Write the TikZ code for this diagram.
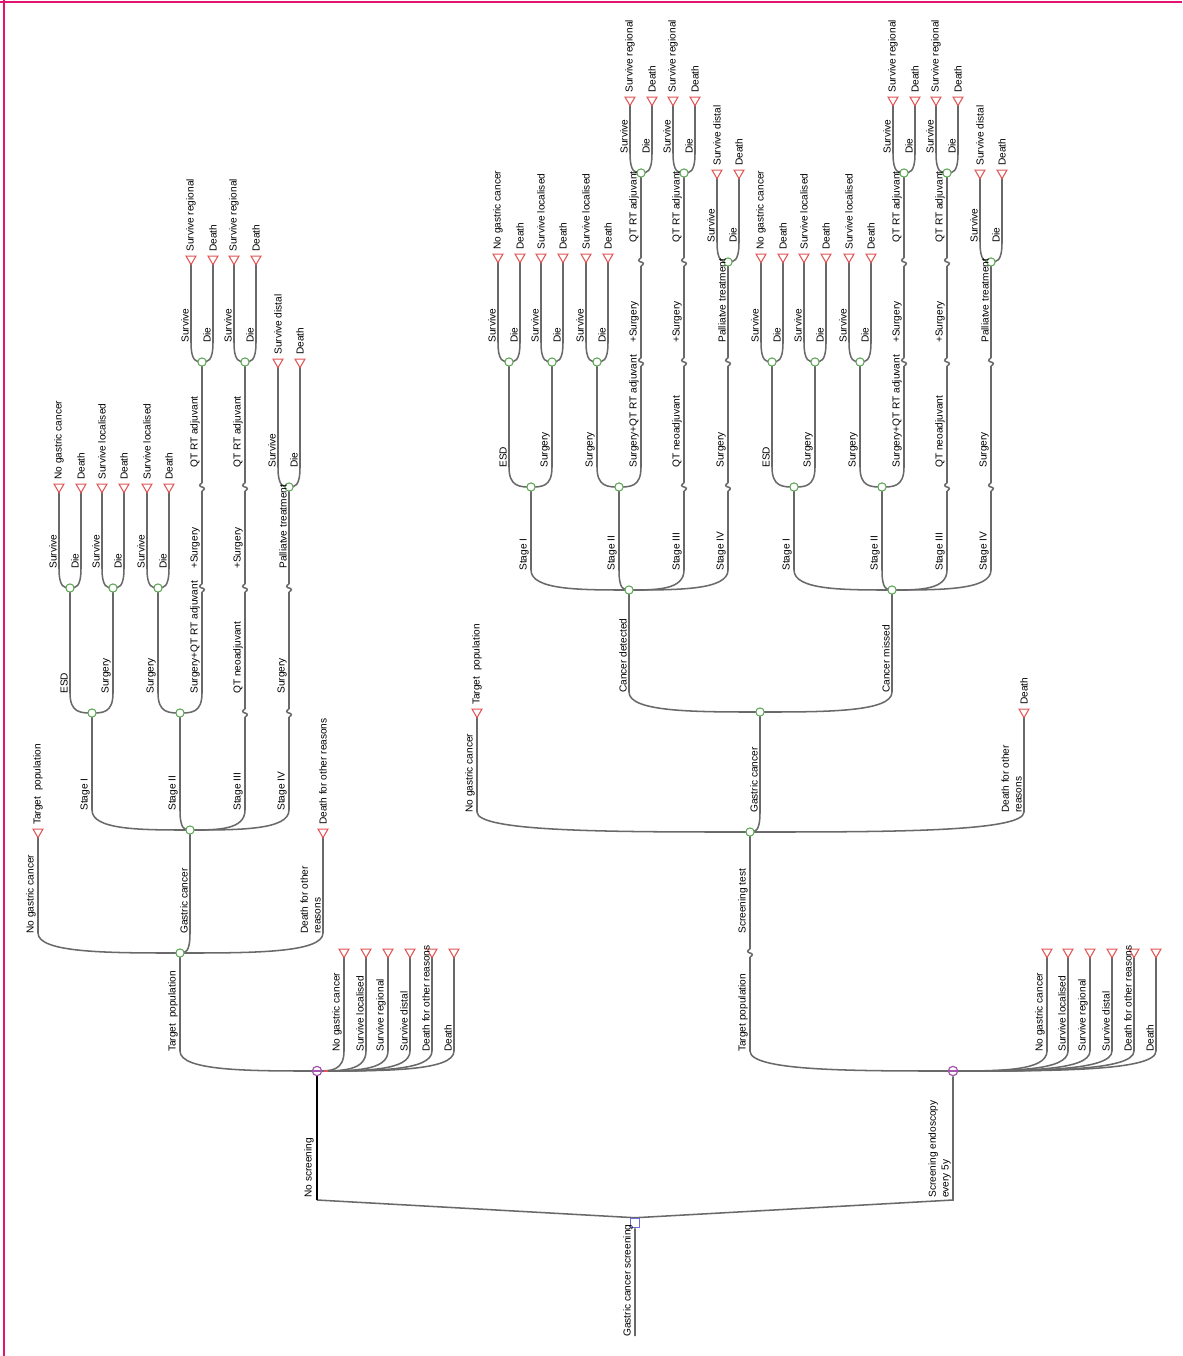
\documentclass[tikz,border=0pt]{standalone}
\usepackage{fontspec}
\setmainfont{Liberation Sans}
\usetikzlibrary{calc,shapes.geometric}
\pgfdeclarelayer{bg}
\pgfsetlayers{bg,main}
\definecolor{lnc}{RGB}{105,105,105}
\definecolor{grn}{RGB}{95,165,85}
\definecolor{trc}{RGB}{225,85,85}
\definecolor{mkv}{RGB}{165,85,175}
\definecolor{dec}{RGB}{110,110,215}
\definecolor{framec}{RGB}{226,20,110}
\tikzset{
 ln/.style={draw=lnc, line width=1.15pt},
 chn/.style={circle, draw=grn, fill=white, line width=0.8pt, inner sep=0pt, minimum size=6.2pt},
 trm/.style={regular polygon, regular polygon sides=3, shape border rotate=180, draw=trc, fill=white, line width=0.8pt, inner sep=0pt, minimum size=8.5pt},
 mkn/.style={circle, draw=mkv, fill=white, line width=0.9pt, inner sep=0pt, minimum size=7pt,
   path picture={\draw[mkv,line width=0.8pt] (path picture bounding box.west) -- (path picture bounding box.east);}},
 dcn/.style={rectangle, draw=dec, fill=white, line width=0.9pt, inner sep=0pt, minimum size=7pt},
 lbl/.style={rotate=90, anchor=south west, inner sep=0pt, font=\fontsize{7.6}{9.5}\selectfont, align=left},
 tlb/.style={rotate=90, anchor=west, inner sep=0pt, font=\fontsize{7.6}{9.5}\selectfont},
}
% fan branch from parent node #1 to target #2 with label #3
\newcommand\myfan[3]{%
 \begin{pgfonlayer}{bg}
 \draw[ln] let \p1=(#1), \p2=(#2) in (\p1) .. controls ({0.5*\x1+0.5*\x2},\y1) and (\x2,\y1) .. (\x2,{\y1+15pt}) -- (\p2);
 \end{pgfonlayer}
 \path let \p1=(#1), \p2=(#2) in node[lbl] at ({\x2-1.5pt},{\y1+14.25pt}) {#3};}
% squiggle (branch continuation mark)
\newcommand\mysq[3]{%
 \coordinate (#1) at ({#2},{#3});
 \coordinate (#1-b) at ({#2},{#3+4});
 \coordinate (#1-t) at ({#2},{#3-4});
 \begin{pgfonlayer}{bg}
 \draw[ln] (#1-b) .. controls ($(#1)+(3,2.5)$) and ($(#1)+(3,0.5)$) .. (#1) .. controls ($(#1)+(-3,-0.5)$) and ($(#1)+(-3,-2.5)$) .. (#1-t);
 \end{pgfonlayer}}
% straight chain segment from squiggle #1 to #2
\newcommand\mychain[3]{%
 \begin{pgfonlayer}{bg}\draw[ln] (#1-t) .. controls ($(#1-t)!0.33!(#2)$) and ($(#1-t)!0.66!(#2)$) .. (#2.center);\end{pgfonlayer}
 \node[lbl] at ($(#1)+(-2,-19)$) {#3};}
% terminal with label
\newcommand\myterm[4]{%
 \node[trm] (#1) at ({#2},{#3}) {};
 \node[tlb] at ($(#1)+(0,-7)$) {#4};}
% survive / die pair
\newcommand\mypair[4]{%
 \node[trm] (#1-L) at ({#2-11},{#3}) {};
 \node[trm] (#1-R) at ({#2+11},{#3}) {};
 \myfan{#1}{#1-L}{Survive}
 \myfan{#1}{#1-R}{Die}
 \node[tlb] at ($(#1-L)+(0,-7)$) {#4};
 \node[tlb] at ($(#1-R)+(0,-7)$) {Death};}
% stage subtree
\newcommand\mytree[9]{%
 \node[chn] (#1) at ({#2},{#3}) {};
 \node[chn] (#1-s1) at ({#2-98},{#4}) {};
 \node[chn] (#1-s2) at ({#2-10},{#4}) {};
 \mysq{#1-a1}{#2+55}{#4}
 \mysq{#1-b1}{#2+99}{#4}
 \myfan{#1}{#1-s1}{Stage I}
 \myfan{#1}{#1-s2}{Stage II}
 \myfan{#1}{#1-a1-b}{Stage III}
 \myfan{#1}{#1-b1-b}{Stage IV}
 \node[chn] (#1-e) at ({#2-120},{#5}) {};
 \node[chn] (#1-u) at ({#2-77},{#5}) {};
 \node[chn] (#1-v) at ({#2-32},{#5}) {};
 \mysq{#1-c2}{#2+12}{#5}
 \mysq{#1-a2}{#2+55}{#5}
 \mysq{#1-b2}{#2+99}{#5}
 \myfan{#1-s1}{#1-e}{ESD}
 \myfan{#1-s1}{#1-u}{Surgery}
 \myfan{#1-s2}{#1-v}{Surgery}
 \myfan{#1-s2}{#1-c2-b}{Surgery+QT RT adjuvant}
 \mychain{#1-a1}{#1-a2-b}{QT neoadjuvant}
 \mychain{#1-b1}{#1-b2-b}{Surgery}
 \mysq{#1-c3}{#2+12}{#7}
 \mysq{#1-a3}{#2+55}{#7}
 \node[chn] (#1-p) at ({#2+99},{#7}) {};
 \mychain{#1-c2}{#1-c3-b}{+Surgery}
 \mychain{#1-a2}{#1-a3-b}{+Surgery}
 \mychain{#1-b2}{#1-p}{Palliatve treatment}
 \mypair{#1-e}{#2-120}{#6}{No gastric cancer}
 \mypair{#1-u}{#2-77}{#6}{Survive localised}
 \mypair{#1-v}{#2-32}{#6}{Survive localised}
 \node[chn] (#1-q) at ({#2+12},{#8}) {};
 \node[chn] (#1-r) at ({#2+55},{#8}) {};
 \mychain{#1-c3}{#1-q}{QT RT adjuvant}
 \mychain{#1-a3}{#1-r}{QT RT adjuvant}
 \mypair{#1-p}{#2+99}{#8}{Survive distal}
 \mypair{#1-q}{#2+12}{#9}{Survive regional}
 \mypair{#1-r}{#2+55}{#9}{Survive regional}
}
\begin{document}
\begin{tikzpicture}[x=0.75pt,y=-0.75pt]
\useasboundingbox (0,0) rectangle (1182,1356);
\draw[framec, line width=1.5pt] (0,2) -- (1182,2);
\draw[framec, line width=1.5pt] (4,0) -- (4,1356);

% root
\node[dcn] (R) at (635,1223) {};
\coordinate (R0) at (635,1336);
\coordinate (rL) at (317,1200);
\coordinate (rR) at (953,1200);
\node[mkn] (N0) at (317,1071) {};
\node[mkn] (N1) at (953,1071) {};
\begin{pgfonlayer}{bg}
\draw[ln] (R.south) .. controls ($(R.south)!0.33!(R0)$) and ($(R.south)!0.66!(R0)$) .. (R0);
\draw[ln] (R.north) -- (rL);
\draw[ln] (R.north) -- (rR) -- (N1);
\draw[black, line width=2.2pt] (rL) -- (N0);
\end{pgfonlayer}
\node[lbl] at ($(R0)+(-2,1)$) {Gastric cancer screening};
\node[lbl] at ($(rL)+(-3,-2)$) {No screening};
\node[lbl] at ($(rR)+(-2,-2)$) {Screening endoscopy\\every 5y};
\draw[trc, line width=0.9pt] ($(N0)+(7,0)$) -- ($(N0)+(11,0)$);

% ---------- left tree (no screening)
\node[chn] (A) at (180,953) {};
\myfan{N0}{A}{Target\ \ population}
\node[trm] (t01) at (344,952) {}; \myfan{N0}{t01}{No gastric cancer}
\node[trm] (t02) at (366,952) {}; \myfan{N0}{t02}{Survive localised}
\node[trm] (t03) at (388,952) {}; \myfan{N0}{t03}{Survive regional}
\node[trm] (t04) at (410,952) {}; \myfan{N0}{t04}{Survive distal}
\node[trm] (t05) at (432,952) {}; \myfan{N0}{t05}{Death for other reasons}
\node[trm] (t06) at (454,952) {}; \myfan{N0}{t06}{Death}
\mytree{L}{190}{830}{713}{588}{487}{487}{362}{259}
\myfan{A}{L}{Gastric cancer}
\myterm{tA1}{38}{832}{Target\ \ population}
\myfan{A}{tA1}{No gastric cancer}
\myterm{tA2}{323}{832}{Death for other reasons}
\myfan{A}{tA2}{Death for other\\reasons}

% ---------- right tree (screening)
\mysq{S1}{750}{953}
\myfan{N1}{S1-b}{Target population}
\node[trm] (t11) at (1047,952) {}; \myfan{N1}{t11}{No gastric cancer}
\node[trm] (t12) at (1068,952) {}; \myfan{N1}{t12}{Survive localised}
\node[trm] (t13) at (1090,952) {}; \myfan{N1}{t13}{Survive regional}
\node[trm] (t14) at (1112,952) {}; \myfan{N1}{t14}{Survive distal}
\node[trm] (t15) at (1134,952) {}; \myfan{N1}{t15}{Death for other reasons}
\node[trm] (t16) at (1156,952) {}; \myfan{N1}{t16}{Death}
\node[chn] (E) at (750,832) {};
\mychain{S1}{E}{Screening test}
\node[chn] (F) at (760,712) {};
\myfan{E}{F}{Gastric cancer}
\myterm{tE1}{477}{712}{Target\ \ population}
\myfan{E}{tE1}{No gastric cancer}
\myterm{tE2}{1024}{712}{Death}
\myfan{E}{tE2}{Death for other\\reasons}
\mytree{G}{629}{590}{487}{362}{257}{262}{173}{100}
\mytree{H}{892}{590}{487}{362}{257}{262}{173}{100}
\myfan{F}{G}{Cancer detected}
\myfan{F}{H}{Cancer missed}
\end{tikzpicture}
\end{document}
